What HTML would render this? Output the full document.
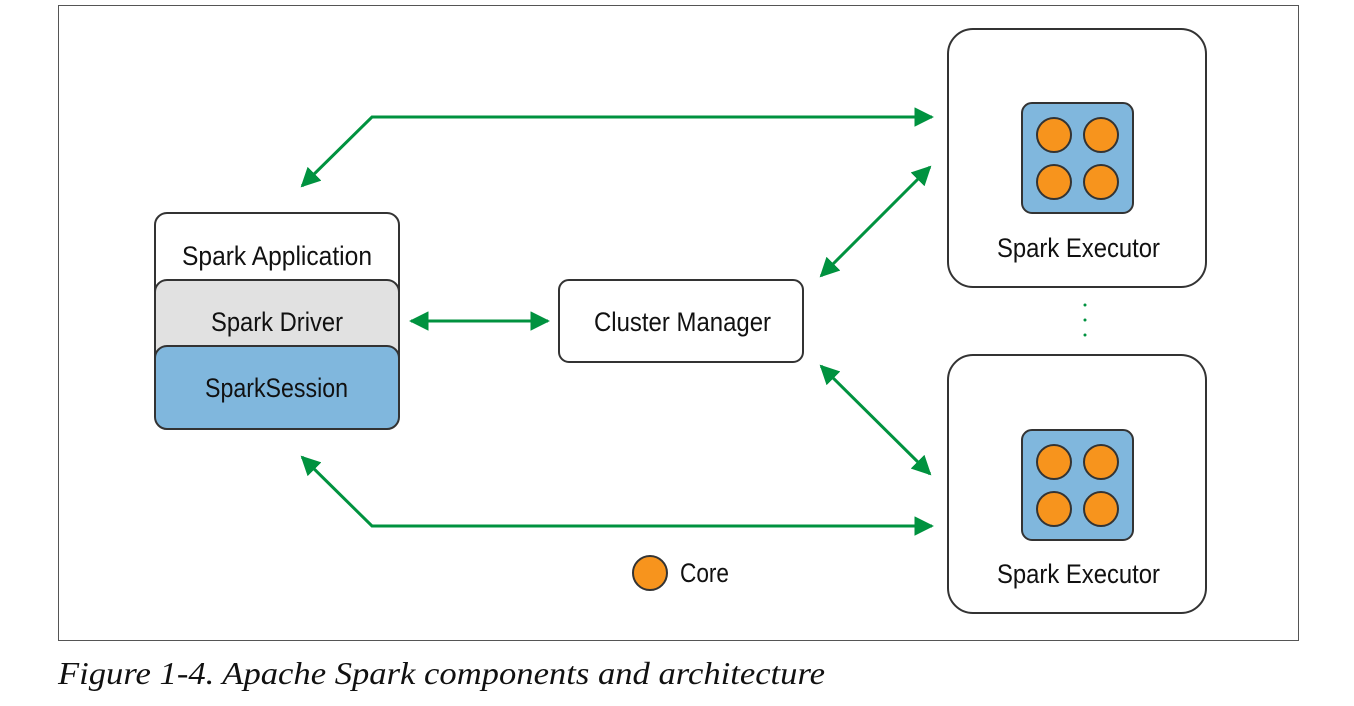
<!DOCTYPE html>
<html><head><meta charset="utf-8"><style>
html,body{margin:0;padding:0;background:#fff;}
svg{display:block;}
text{font-family:"Liberation Sans",sans-serif;fill:#111;}
</style></head><body>
<svg width="1354" height="706" viewBox="0 0 1354 706" xmlns="http://www.w3.org/2000/svg">
<defs>
<marker id="ah" viewBox="0 0 10 10" refX="9" refY="5" markerWidth="6.5" markerHeight="6.5" orient="auto-start-reverse" markerUnits="strokeWidth">
<path d="M0,0 L10,5 L0,10 z" fill="#00923f"/></marker>
</defs>
<rect x="58.5" y="5.5" width="1240" height="635" fill="#fff" stroke="#555" stroke-width="1"/>
<rect x="155" y="213" width="244" height="100" rx="12" fill="#fff" stroke="#333" stroke-width="2"/>
<rect x="155" y="280" width="244" height="100" rx="12" fill="#e1e1e1" stroke="#333" stroke-width="2"/>
<rect x="155" y="346" width="244" height="83" rx="12" fill="#80b7dd" stroke="#333" stroke-width="2"/>
<text x="182" y="265" font-size="27" textLength="190" lengthAdjust="spacingAndGlyphs">Spark Application</text>
<text x="211" y="331" font-size="27" textLength="132" lengthAdjust="spacingAndGlyphs">Spark Driver</text>
<text x="205" y="397" font-size="27" textLength="143" lengthAdjust="spacingAndGlyphs">SparkSession</text>
<rect x="559" y="280" width="244" height="82" rx="10" fill="#fff" stroke="#333" stroke-width="2"/>
<text x="594" y="331" font-size="27" textLength="177" lengthAdjust="spacingAndGlyphs">Cluster Manager</text>
<g>
<rect x="948" y="29" width="258" height="258" rx="25" fill="#fff" stroke="#333" stroke-width="2"/>
<rect x="1022" y="103" width="111" height="110" rx="10" fill="#80b7dd" stroke="#333" stroke-width="2"/>
<circle cx="1054" cy="135" r="17" fill="#f7941d" stroke="#333" stroke-width="2"/>
<circle cx="1101" cy="135" r="17" fill="#f7941d" stroke="#333" stroke-width="2"/>
<circle cx="1054" cy="182" r="17" fill="#f7941d" stroke="#333" stroke-width="2"/>
<circle cx="1101" cy="182" r="17" fill="#f7941d" stroke="#333" stroke-width="2"/>
<text x="997" y="257" font-size="27" textLength="163" lengthAdjust="spacingAndGlyphs">Spark Executor</text>
</g>
<g>
<rect x="948" y="355" width="258" height="258" rx="25" fill="#fff" stroke="#333" stroke-width="2"/>
<rect x="1022" y="430" width="111" height="110" rx="10" fill="#80b7dd" stroke="#333" stroke-width="2"/>
<circle cx="1054" cy="462" r="17" fill="#f7941d" stroke="#333" stroke-width="2"/>
<circle cx="1101" cy="462" r="17" fill="#f7941d" stroke="#333" stroke-width="2"/>
<circle cx="1054" cy="509" r="17" fill="#f7941d" stroke="#333" stroke-width="2"/>
<circle cx="1101" cy="509" r="17" fill="#f7941d" stroke="#333" stroke-width="2"/>
<text x="997" y="583" font-size="27" textLength="163" lengthAdjust="spacingAndGlyphs">Spark Executor</text>
</g>
<circle cx="1085" cy="305" r="1.5" fill="#00923f"/>
<circle cx="1085" cy="320" r="1.5" fill="#00923f"/>
<circle cx="1085" cy="335" r="1.5" fill="#00923f"/>
<g fill="none" stroke="#00923f" stroke-width="3">
<polyline points="302,186 372,117 932,117" marker-start="url(#ah)" marker-end="url(#ah)"/>
<polyline points="302,457 372,526 932,526" marker-start="url(#ah)" marker-end="url(#ah)"/>
<line x1="411" y1="321" x2="548" y2="321" marker-start="url(#ah)" marker-end="url(#ah)"/>
<line x1="821" y1="276" x2="930" y2="167" marker-start="url(#ah)" marker-end="url(#ah)"/>
<line x1="821" y1="366" x2="930" y2="474" marker-start="url(#ah)" marker-end="url(#ah)"/>
</g>
<circle cx="650" cy="573" r="17" fill="#f7941d" stroke="#333" stroke-width="2"/>
<text x="680" y="582" font-size="27" textLength="49" lengthAdjust="spacingAndGlyphs">Core</text>
<text x="58" y="684" font-size="32" font-style="italic" textLength="767" lengthAdjust="spacingAndGlyphs" style="font-family:'Liberation Serif',serif">Figure 1-4. Apache Spark components and architecture</text>
</svg>
</body></html>
